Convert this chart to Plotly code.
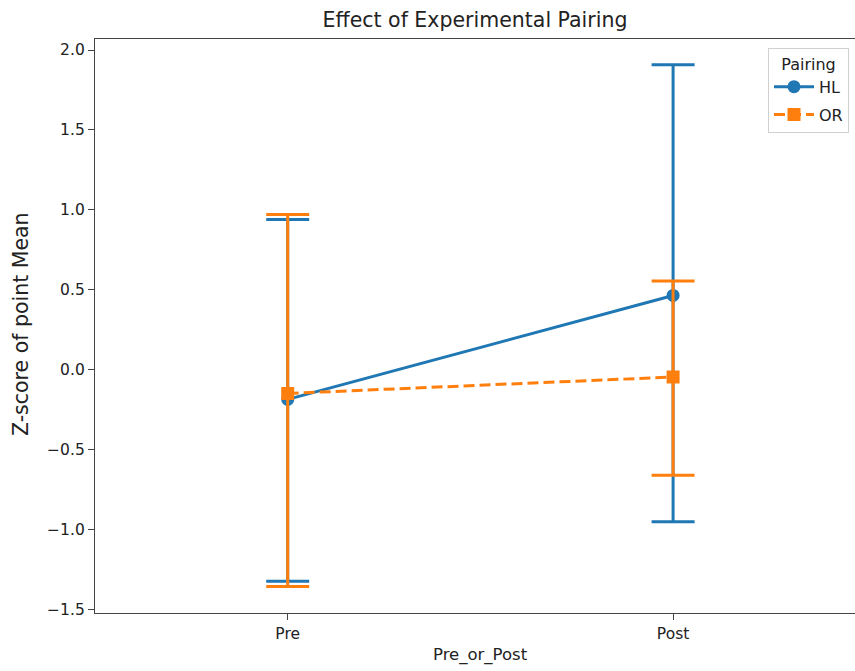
import plotly.graph_objects as go

# Point estimates with 95% confidence intervals per pairing
phases = ["Pre", "Post"]
hl_mean = [-0.185, 0.465]
hl_lower = [-1.323, -0.950]
hl_upper = [0.940, 1.908]
or_mean = [-0.148, -0.045]
or_lower = [-1.356, -0.660]
or_upper = [0.972, 0.556]

BLUE = "#1f77b4"
ORANGE = "#ff7f0e"
FONT = "DejaVu Sans"
TXT = "#222222"


def ci_trace(name, mean, lower, upper, color, symbol, size, dash):
    plus = [u - m for u, m in zip(upper, mean)]
    minus = [m - lo for m, lo in zip(mean, lower)]
    return go.Scatter(
        x=phases, y=mean, name=name, legendgroup=name, mode="lines+markers",
        line=dict(color=color, width=3, dash=dash),
        marker=dict(color=color, symbol=symbol, size=size),
        error_y=dict(type="data", symmetric=False, array=plus, arrayminus=minus,
                     color=color, thickness=3, width=21.5),
    )


fig = go.Figure()
fig.add_trace(ci_trace("HL", hl_mean, hl_lower, hl_upper, BLUE, "circle", 13, "solid"))
fig.add_trace(ci_trace("OR", or_mean, or_lower, or_upper, ORANGE, "square", 13, "11px,5px"))

fig.update_layout(
    width=855, height=671,
    margin=dict(l=95, r=0, t=39, b=58),
    paper_bgcolor="white", plot_bgcolor="white",
    font=dict(family=FONT, color=TXT, size=15.5),
    title=dict(text="Effect of Experimental Pairing", x=475 / 855, xref="container",
               xanchor="center", y=1 - 20 / 671, yref="container", yanchor="middle",
               font=dict(size=20.5, family=FONT, color=TXT)),
    showlegend=True,
    legend=dict(
        title=dict(text="Pairing", side="top center", font=dict(size=16)),
        x=(768 - 95) / 760, xanchor="left", y=(613 - 48) / 574, yanchor="top",
        bgcolor="white", bordercolor="#d0d0d0", borderwidth=1,
        font=dict(size=16, family=FONT, color=TXT),
        itemwidth=40, traceorder="grouped", tracegroupgap=4,
    ),
)

fig.update_xaxes(
    type="category", range=[-0.5, 1.472],
    showline=True, linecolor="#444", linewidth=1.3, mirror=True,
    ticks="outside", ticklen=6, tickcolor="#444", tickwidth=1.2,
    showgrid=False, zeroline=False,
    tickfont=dict(size=15.5, family=FONT, color=TXT),
)
fig.update_yaxes(
    range=[-1.521, 2.069],
    tickvals=[-1.5, -1.0, -0.5, 0.0, 0.5, 1.0, 1.5, 2.0],
    ticktext=["\u22121.5", "\u22121.0", "\u22120.5", "0.0", "0.5", "1.0", "1.5", "2.0"],
    showline=True, linecolor="#444", linewidth=1.3, mirror=False,
    ticks="outside", ticklen=6, tickcolor="#444", tickwidth=1.2,
    showgrid=False, zeroline=False,
    tickfont=dict(size=15.5, family=FONT, color=TXT),
)

# Axis titles
fig.add_annotation(text="Pre_or_Post", xref="paper", yref="paper",
                   x=(480 - 95) / 760, y=-(655 - 613) / 574,
                   xanchor="center", yanchor="middle", showarrow=False,
                   font=dict(size=16.5, family=FONT, color=TXT))
fig.add_annotation(text="Z-score of point Mean", xref="paper", yref="paper",
                   x=-(95 - 21) / 760, y=(613 - 324) / 574, textangle=-90,
                   xanchor="center", yanchor="middle", showarrow=False,
                   font=dict(size=20.5, family=FONT, color=TXT))

fig.write_html("out.html")
